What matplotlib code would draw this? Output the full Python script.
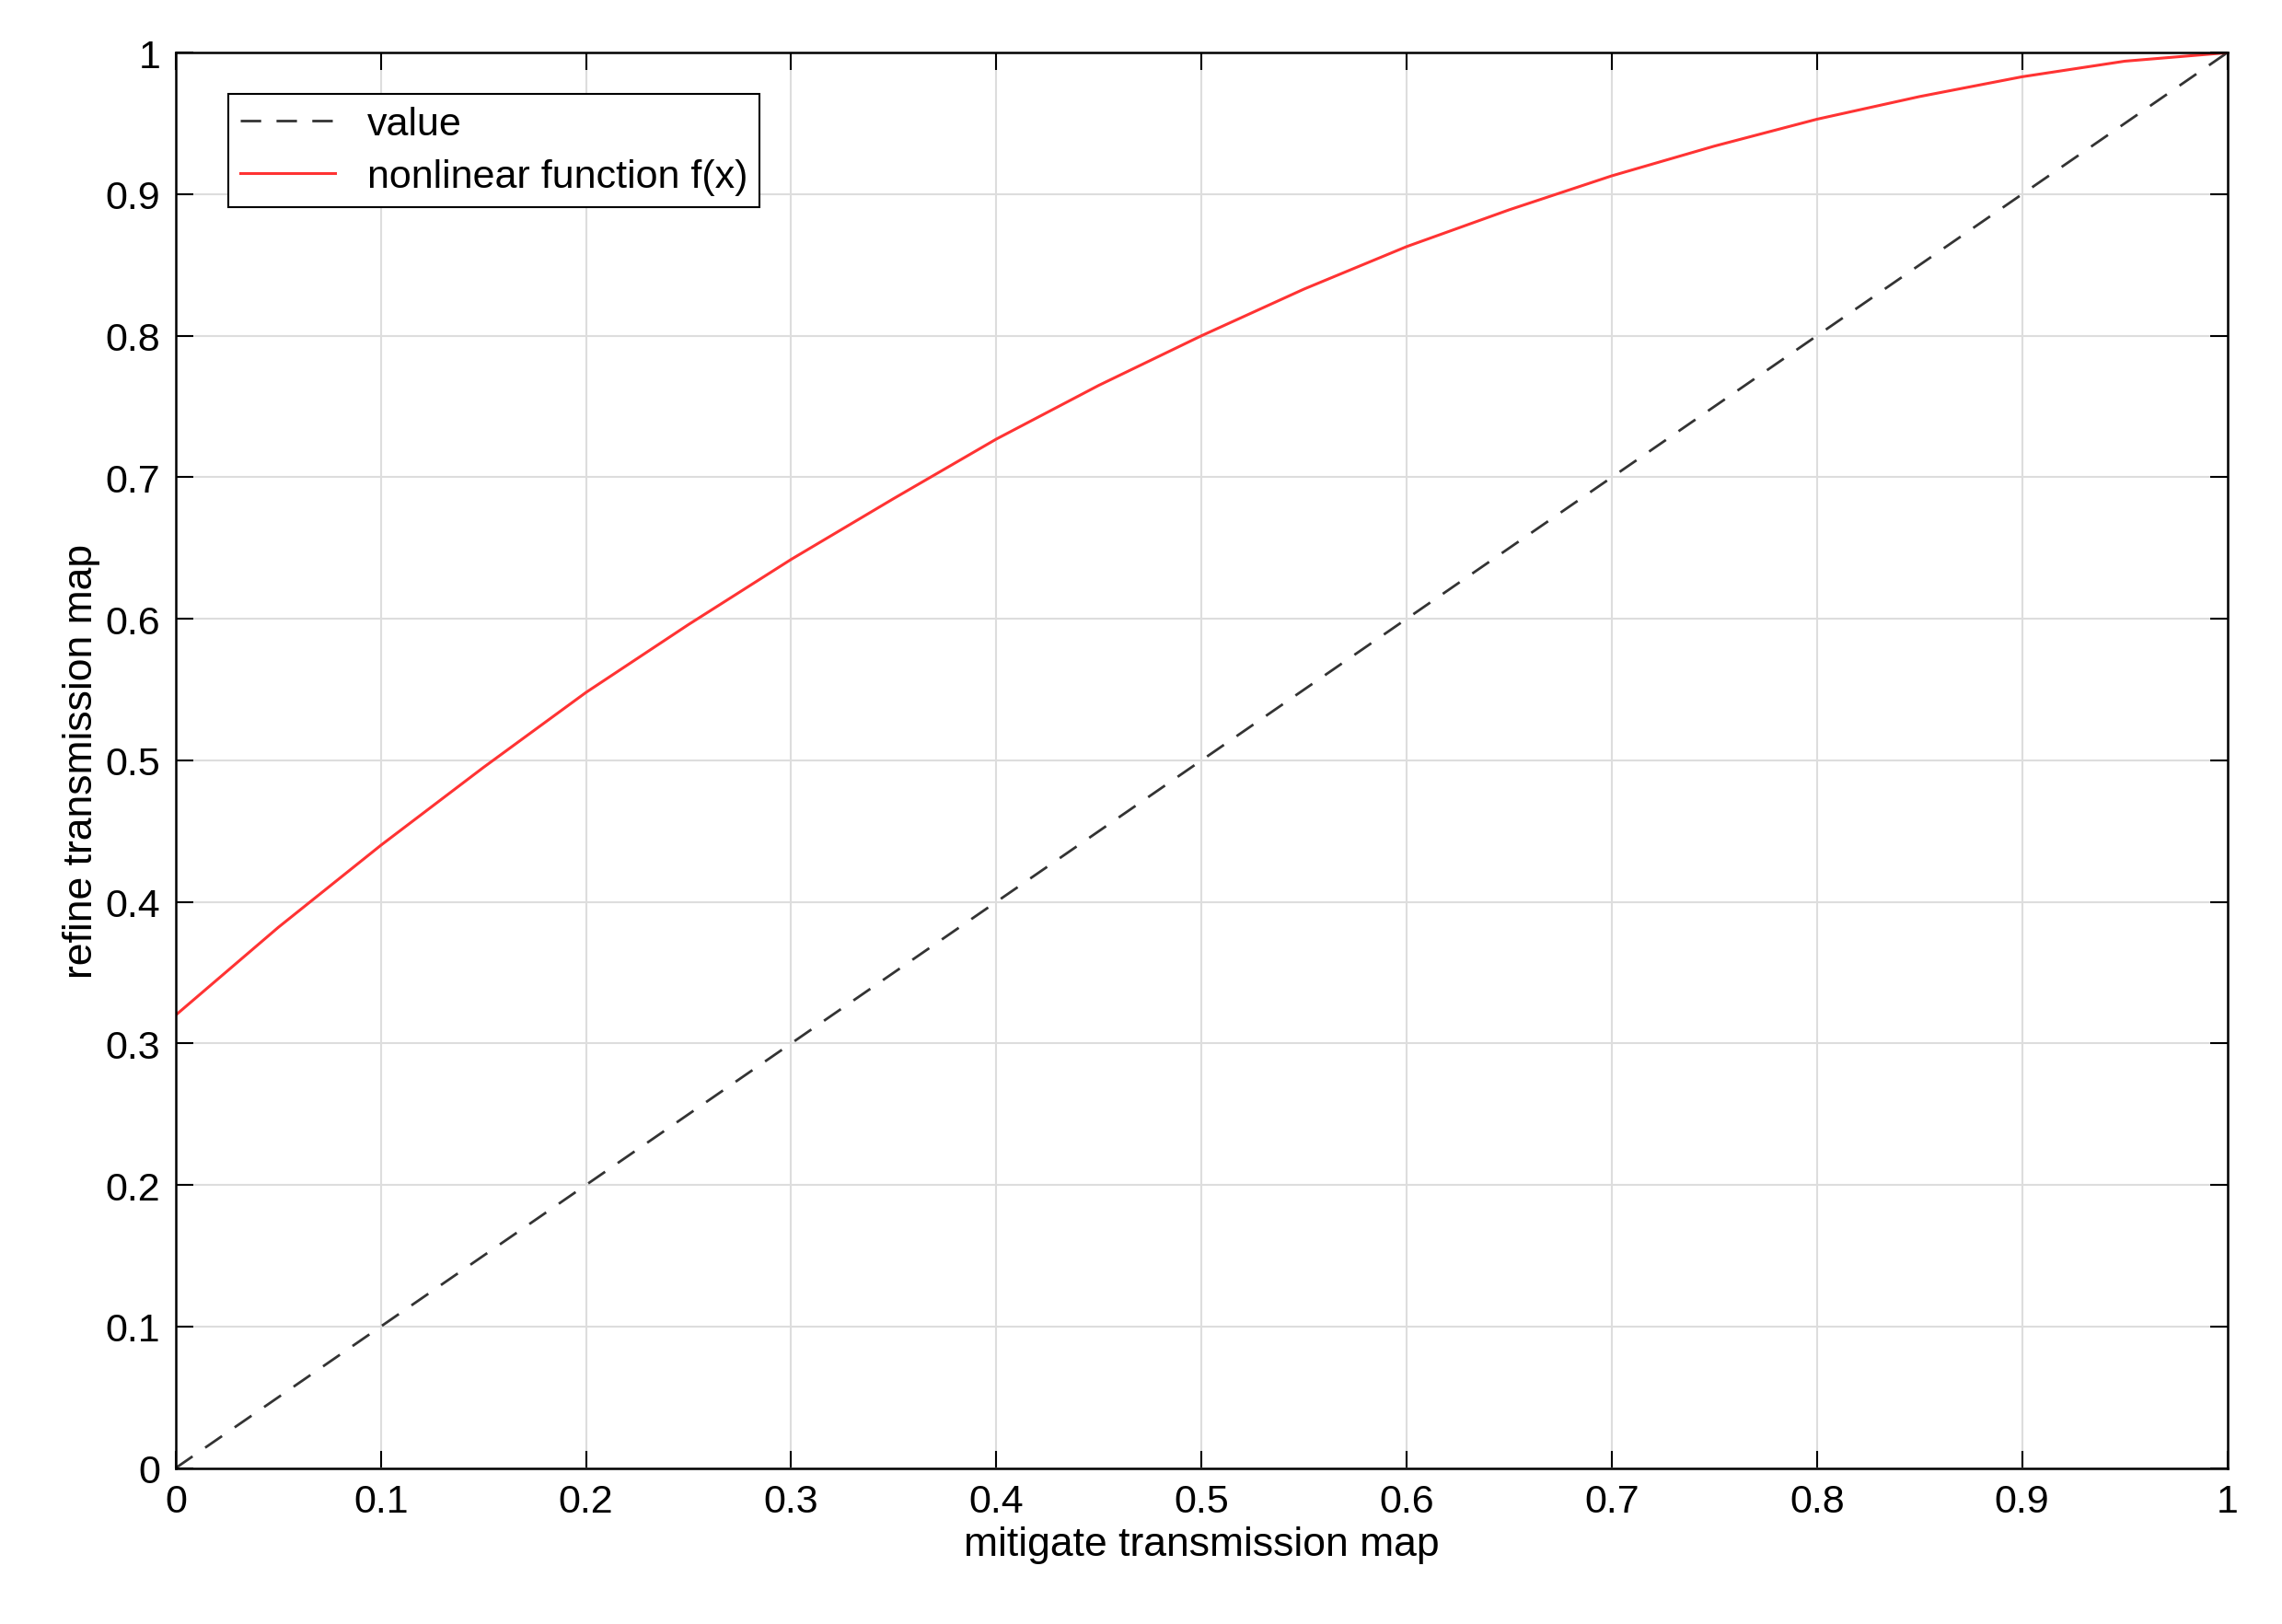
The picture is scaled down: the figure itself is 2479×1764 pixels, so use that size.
import numpy as np
import matplotlib.pyplot as plt

plt.rcParams['font.family'] = ['Liberation Sans', 'DejaVu Sans']

# datos
x_val = [0, 0.05, 0.1, 0.15, 0.2, 0.25, 0.3, 0.35, 0.4, 0.45, 0.5,
         0.55, 0.6, 0.65, 0.7, 0.75, 0.8, 0.85, 0.9, 0.95, 1.0]
f_val = [0.32, 0.382, 0.44, 0.495, 0.548, 0.596, 0.642, 0.685, 0.727, 0.765, 0.80,
         0.833, 0.863, 0.889, 0.913, 0.934, 0.953, 0.969, 0.983, 0.994, 1.0]
diag_x = [0, 1]
diag_y = [0, 1]

fig = plt.figure(figsize=(24.79, 17.65), dpi=100)
ax = fig.add_axes([0.077, 0.096, 0.899, 0.871])

ax.plot(diag_x, diag_y, '--', color='#333333', lw=2, dashes=(8, 6), label='value')
ax.plot(x_val, f_val, '-', color='#ff3333', lw=2.2, label='nonlinear function f(x)')

ax.set_xlim(0, 1)
ax.set_ylim(0, 1)
ticks = np.arange(0, 1.01, 0.1)
labels = ['0'] + [f'{t:.1f}' for t in ticks[1:-1]] + ['1']
ax.set_xticks(ticks, labels)
ax.set_yticks(ticks, labels)
ax.tick_params(labelsize=31, direction='in', length=14, width=1.5, top=True, right=True, pad=12)
ax.grid(True, color='#dddddd', lw=1.5)
for s in ax.spines.values():
    s.set_linewidth(1.8)

ax.set_xlabel('mitigate transmission map', fontsize=32)
ax.set_ylabel('refine transmission map', fontsize=32)

leg = ax.legend(loc='upper left', bbox_to_anchor=(0.016, 0.985), fontsize=31, fancybox=False,
                edgecolor='black', framealpha=1, borderpad=0.3, handlelength=2.4, labelspacing=0.4)
leg.get_frame().set_linewidth(1.5)

fig.savefig('out.png')
